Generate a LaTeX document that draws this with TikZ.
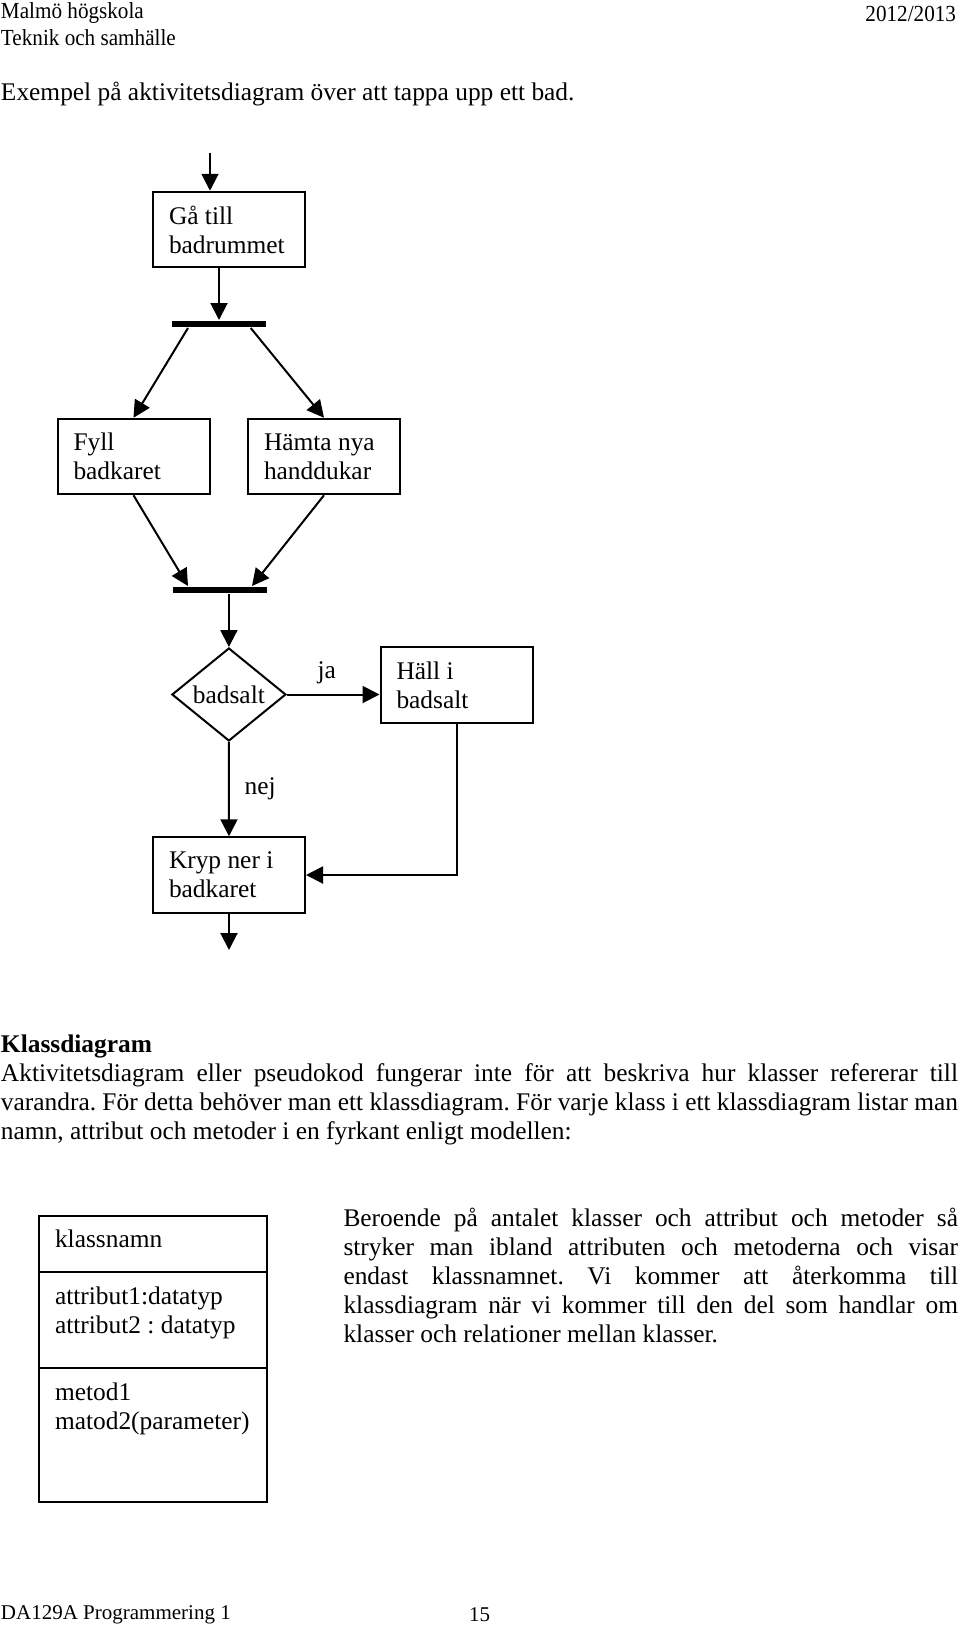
\documentclass[tikz,border=0pt]{standalone}
\usepackage{fontspec}
\setmainfont{Liberation Serif}
\newfontfamily\headfont[FakeStretch=0.92]{Liberation Serif}
\usetikzlibrary{arrows.meta,shapes.geometric,positioning}
\frenchspacing
\begin{document}
\begin{tikzpicture}[>={Triangle[length=8.5pt,width=8.5pt]},x=0.5pt,y=-0.5pt,
    line width=1pt,font=\fontsize{12.7}{14.5}\selectfont,
    akt/.style={draw,rectangle,text width=60pt,inner xsep=8pt,align=flush left,minimum height=37.75pt},
    bar/.style={fill,rectangle,inner sep=0pt,minimum width=47pt,minimum height=3pt},
    val/.style={draw,diamond,inner sep=0pt,minimum width=57pt,minimum height=46.5pt,shape aspect=1.2},
    fack/.style={draw,rectangle,text width=97.85pt,inner xsep=8pt,inner ysep=0pt,outer sep=0pt,align=flush left,text height=16pt},
    rad/.style={anchor=west,inner sep=0pt},
    stycke/.style={anchor=base west,inner sep=0pt,align=justify}]
\useasboundingbox (0,0) rectangle (960,1628);
% sidhuvud
\node[rad,font=\headfont\fontsize{11.5}{13}\selectfont] (skola) at (0,13.5) {Malmö högskola};
\node[rad,font=\headfont\fontsize{11.5}{13}\selectfont] (teknik) at (0,37.5) {Teknik och samhälle};
\node[rad,anchor=east,font=\headfont\fontsize{11.5}{13}\selectfont] (ar) at (957,13.5) {2012/2013};
\node[rad] (exempel) at (0,94) {Exempel på aktivitetsdiagram över att tappa upp ett bad.};
% aktivitetsdiagram
\coordinate (start) at (210,153);
\node[akt] (gaa) at (229,229.5) {Gå till\\badrummet};
\node[bar] (bar1) at (219,324) {};
\node[akt] (fyll) at (133.5,456.5) {Fyll\\badkaret};
\node[akt] (hamta) at (324,456.5) {Hämta nya\\handdukar};
\node[bar] (bar2) at (219.5,590) {};
\node[val] (salt) at (228.9,694.5) {badsalt};
\node[akt] (hall) at (456.5,685) {Häll i\\badsalt};
\node[akt] (kryp) at (229,875) {Kryp ner i\\badkaret};
\coordinate (slut) at (229,950);
\draw[->] (start) -- (start |- gaa.north);
\draw[->] (gaa.south -| bar1.north) -- (bar1.north);
\draw[->] ([xshift=-15.5pt]bar1.south) -- (fyll.north);
\draw[->] ([xshift=15.85pt]bar1.south) -- (hamta.north);
\draw[->] (fyll.south) -- ([xshift=-15.75pt]bar2.north);
\draw[->] (hamta.south) -- ([xshift=16.25pt]bar2.north);
\draw[->] (salt.north |- bar2.south) -- (salt.north);
\draw[->] (salt.east) -- node[above=1.5pt,pos=0.43] (ja) {ja} (hall.west |- salt.east);
\draw[->] (salt.south) -- node[right=4pt] (nej) {nej} (kryp.north);
\draw[->] (hall.south) |- (kryp.east);
\draw[->] (kryp.south) -- (slut);
% klassdiagram
\node[stycke,text width=478.5pt] (klass) at (0,1052) {\textbf{Klassdiagram}\par
  Aktivitetsdiagram eller pseudokod fungerar inte för att beskriva hur klasser refererar till\linebreak
  varandra. För detta behöver man ett klassdiagram. För varje klass i ett klassdiagram listar man\linebreak
  namn, attribut och metoder i en fyrkant enligt modellen:};
\node[fack,anchor=north,text depth=12.3pt] (knamn) at (152.85,1215.7) {klassnamn};
\node[fack,anchor=north,text depth=31.85pt] (kattr) at (knamn.south) {attribut1:datatyp\\attribut2 : datatyp};
\node[fack,anchor=north,text depth=50.85pt] (kmet) at (kattr.south) {metod1\\matod2(parameter)};
\node[stycke,text width=307.25pt] (beroende) at (342.5,1226) {Beroende på antalet klasser och attribut och metoder så\linebreak
  stryker man ibland attributen och metoderna och visar\linebreak
  endast klassnamnet. Vi kommer att återkomma till\linebreak
  klassdiagram när vi kommer till den del som handlar om\linebreak
  klasser och relationer mellan klasser.};
% sidfot
\node[rad,font=\fontsize{10.5}{12}\selectfont] (kurs) at (0,1615) {DA129A Programmering 1};
\node[inner sep=0pt,font=\fontsize{10.5}{12}\selectfont] (sida) at (479.5,1615) {15};
\end{tikzpicture}
\end{document}
